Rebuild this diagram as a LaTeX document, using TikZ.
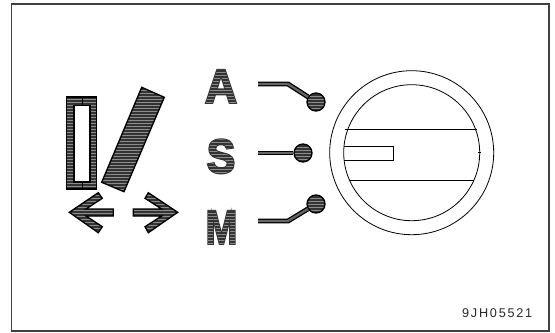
\documentclass[tikz,border=0pt]{standalone}
\usepackage{fontspec}
\setmainfont{Liberation Sans}
\newfontfamily\codefont{Liberation Sans}
\usetikzlibrary{shapes.geometric, positioning}

\definecolor{hatchdark}{gray}{0.2}
\definecolor{hatchlight}{gray}{0.55}

% letter painted and outlined, then used as a mask for the stripes
\newcommand{\hatchletter}[1]{%
	\setbox0=\hbox{#1}%
	\special{pdf:code q 0 G 1.5 w 6 Tr}%
	\color{hatchdark}\copy0\special{pdf:code 0 Tr}\kern-\wd0
	\foreach \yy in {-2,...,14}{\rlap{\raisebox{\dimexpr2.25pt*\yy\relax}{\color{hatchlight}\rule{\wd0}{0.6pt}}}}%
	\special{pdf:code Q}\kern\wd0
}

\tikzset{
	hatched/.style={draw=black, line width=1pt, fill=hatchdark, path picture={
		\foreach \yy in {60,63,...,240} {
			\draw[hatchlight, line width=0.6pt] (50,\yy) -- (200,\yy);
		}
	}},
	letter/.style={inner sep=0pt, font=\bfseries\fontsize{36pt}{36pt}\selectfont, transform shape},
	ball/.style={draw=black, line width=1pt, fill=hatchdark, circle, minimum size=13.5pt, inner sep=0pt, path picture={
		\foreach \yy in {-9,-6,...,9} {
			\draw[hatchlight, line width=0.6pt] (-12,\yy) -- (12,\yy);
		}
	}},
	wire/.style={line width=1pt, double=black!60, double distance=1.7pt},
	thin line/.style={draw=black, line width=0.6pt}
}

\begin{document}
\begin{tikzpicture}[x=0.75pt, y=-0.75pt]
	\useasboundingbox (0,0) rectangle (555,332);
	\node (frame) [draw=black!75, line width=0.9pt, minimum width=403.1pt, minimum height=245.25pt, inner sep=0pt] at (280.25,167.5) {};

	% left icon
	\draw[hatched] (66.7,97) rectangle (96.7,189);
	\node (slot) [draw=black, line width=1pt, fill=white, minimum width=12pt, minimum height=57.5pt, inner sep=0pt] at (82,143.5) {};
	\coordinate (slottop) at (82,97);
	\coordinate (slotbot) at (82,189);
	\draw[line width=0.6pt] (slottop) -- (slot.north);
	\draw[line width=0.6pt] (slotbot) -- (slot.south);
	\draw[hatched] (141.7,87.3) -- (164.3,97.3) -- (124,191.7) -- (101.7,182.3) -- cycle;
	\draw[hatched] (69.3,212.3) -- (98.3,192.7) -- (102.3,198.3) -- (86,209) -- (113.3,209) -- (113.3,216) -- (86,216) -- (102.3,226.7) -- (98.3,232.7) -- cycle;
	\draw[hatched] (177.7,212.3) -- (148.3,192.7) -- (145,198.3) -- (161.7,209) -- (133.3,209) -- (133.3,216) -- (161.7,216) -- (145,226.7) -- (148.3,232.7) -- cycle;

	% letters
	\node (a) [letter, xscale=0.93] at (221,84.5) {\hatchletter{A}};
	\node (s) [letter, xscale=0.9] at (221,154.5) {\hatchletter{S}};
	\node (m) [letter, xscale=0.8] at (221.5,225.5) {\hatchletter{M}};

	% switch positions
	\coordinate (astart) at (258,84);
	\coordinate (abend) at (288,84);
	\coordinate (sstart) at (258,153);
	\coordinate (mstart) at (258,221);
	\coordinate (mbend) at (288,221);
	\node (aball) [ball] at (316,102) {};
	\node (sball) [ball] at (303,153) {};
	\node (mball) [ball] at (316,204) {};
	\draw[wire] (astart) -- (abend) -- (aball);
	\draw[wire] (sstart) -- (sball);
	\draw[wire] (mstart) -- (mbend) -- (mball);

	% knob
	\node (outer) [circle, thin line, minimum size=123pt, inner sep=0pt] at (411.7,152.7) {};
	\node (inner) [circle, thin line, minimum size=102pt, inner sep=0pt] at (411.7,152.7) {};
	\draw[thin line] (345.3,129.3) -- (476.7,129.3);
	\draw[thin line] (348.5,180) -- (474,180);
	\draw[thin line] (343.5,146) -- (393,146) -- (393,160) -- (343.5,160);
	\draw[thin line] (478,152.7) -- (481,152.7);

	\node (code) [font=\codefont\fontsize{9.5pt}{10pt}\selectfont, inner sep=0pt, text=black!85] at (497.2,313.5) {\addfontfeatures{LetterSpace=14}9JH05521};
\end{tikzpicture}
\end{document}
